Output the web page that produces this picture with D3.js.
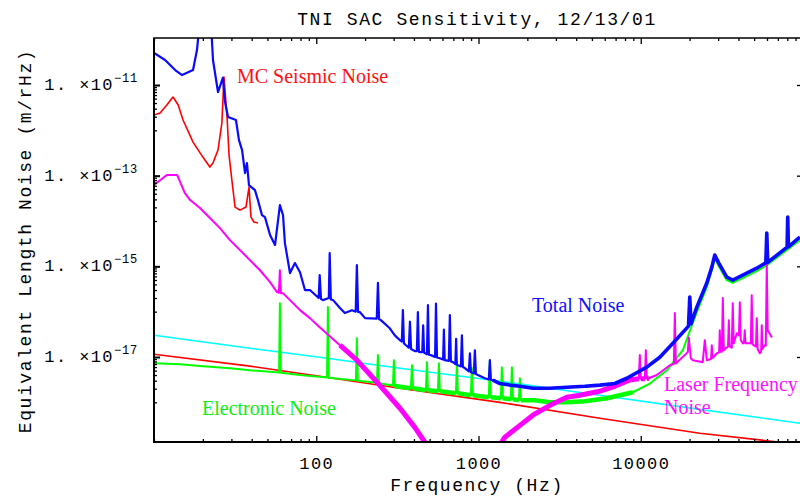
<!DOCTYPE html>
<html>
<head>
<meta charset="utf-8">
<script src="https://cdn.jsdelivr.net/npm/d3@7"></script>
<style>
body { margin: 0; background: #fff; }
svg { display: block; }
</style>
</head>
<body>
<script>
// donnees : [frequence (Hz), bruit (m/rHz)]
const totalNoise = [[10,5.1e-11],[11.7,3.56e-11],[13.5,2.14e-11],[14.9,1.66e-11],[17.4,2.14e-11],[18.4,5.9e-11],[19.2,2.7e-10],[22.4,2.7e-10],[23.1,3.56e-11],[24.8,7.0e-12],[26.6,1.45e-11],[27.4,4.2e-12],[28.6,1.97e-12],[32.0,1.69e-12],[33.4,6.1e-13],[34.9,3.67e-13],[36.4,1.14e-13],[37.4,1.9e-13],[38.5,6.2e-14],[41.9,4.8e-14],[43.7,2.9e-14],[46.3,1.35e-14],[48.3,1.22e-14],[51.9,4.9e-15],[55.7,2.94e-15],[59.7,2.24e-14],[62.4,1.35e-14],[64.1,3.25e-15],[68.9,7.1e-16],[73.9,1.18e-15],[79.4,7.4e-16],[85.2,3.0e-16],[91.4,3.0e-16],[103.5,2.0e-16],[105,6.4e-16],[107,1.9e-16],[110,1.8e-16],[119.5,2.0e-16],[121,1.95e-15],[123,1.85e-16],[127,1.8e-16],[140,1.2e-16],[150,9.3e-17],[166,1.08e-16],[175,1.0e-16],[178,1.06e-15],[181,9.9e-17],[186,9.75e-17],[200,7.2e-17],[236,7.0e-17],[240,4.3e-16],[244,6.8e-17],[250,6.5e-17],[284,4.3e-17],[305,3.0e-17],[328,2.35e-17],[337,2.2e-17],[342,1.08e-16],[347,2.0e-17],[357,1.82e-17],[372,1.6e-17],[378,6.0e-17],[384,1.5e-17],[405,1.35e-17],[417,1.35e-17],[423,9.75e-17],[429,1.3e-17],[442,1.28e-17],[450,1.28e-17],[456,5.0e-17],[462,1.25e-17],[481,1.15e-17],[488,1.39e-16],[495,1.12e-17],[509,1.1e-17],[540,1.0e-17],[547,1.5e-16],[555,9.8e-18],[578,9.4e-18],[605,8.8e-18],[612,4.0e-17],[619,8.5e-18],[656,8.2e-18],[666,8.4e-17],[676,8.0e-18],[695,7.7e-18],[720,7.0e-18],[728,2.5e-17],[735,6.8e-18],[747,6.6e-18],[779,6.2e-18],[790,3.0e-17],[801,6.0e-18],[824,5.7e-18],[872,4.8e-18],[885,1.2e-17],[898,4.6e-18],[936,4.3e-18],[950,1.41e-17],[964,4.2e-18],[991,4.0e-18],[1094,3.4e-18],[1158,3.2e-18],[1175,8.5e-18],[1192,3.15e-18],[1226,3.1e-18],[1355,2.6e-18],[1560,2.4e-18],[1800,2.26e-18],[2163,2.05e-18],[2754,2.05e-18],[3504,2.15e-18],[4520,2.26e-18],[5595,2.4e-18],[6920,2.6e-18],[8200,3.4e-18],[10890,5.96e-18],[13110,9.9e-18],[15780,2.0e-17],[19700,4.8e-17],[20050,2.1e-16],[20400,5.4e-17],[22160,1.26e-16],[25530,4.3e-16],[27420,9.6e-16],[28580,1.77e-15],[30270,1.18e-15],[33890,5.8e-16],[36900,4.96e-16],[42540,6.4e-16],[51880,9.1e-16],[59000,1.2e-15],[59800,5.4e-15],[60600,1.22e-15],[79800,2.65e-15],[80500,1.22e-14],[81300,2.7e-15],[95500,4.4e-15]]

const seismicNoise = [[10,2.18e-12],[10.9,2.41e-12],[12.0,3.62e-12],[13.1,5.43e-12],[14.1,3.62e-12],[15.1,1.69e-12],[17.4,5.5e-13],[20.0,2.57e-13],[22.1,1.55e-13],[23.1,1.9e-13],[24.8,3.67e-13],[26.2,1.45e-12],[27.0,1.5e-11],[28.2,1.97e-12],[29.0,2.85e-13],[30.2,8.0e-14],[31.6,2.03e-14],[33.9,1.74e-14],[36.9,2.03e-14],[38.5,5.6e-14],[39.6,1.22e-14],[41.3,9.5e-15],[43.7,9.0e-15]]

const redFloor = [[10,1.15e-17],[39,6.3e-18],[105,3.77e-18],[328,2.05e-18],[1355,1.0e-18],[5600,4.45e-19],[23100,2.08e-19],[82800,1.25e-19],[100000,1.05e-19]]

const cyanFloor = [[10,3.03e-17],[39,1.56e-17],[105,9.9e-18],[328,5.66e-18],[1355,2.92e-18],[5600,1.43e-18],[23100,7.0e-19],[95500,3.46e-19],[100000,3.3e-19]]

const laserNoise = [[10,6.2e-14],[12.0,1.03e-13],[13.9,1.03e-13],[15.5,4.13e-14],[16.7,2.9e-14],[19.2,1.93e-14],[22.1,1.16e-14],[25.5,6.97e-15],[29.4,3.79e-15],[33.9,2.28e-15],[39.0,1.37e-15],[45.0,8.2e-16],[51.9,4.48e-16],[57.3,2.69e-16],[58.8,2.6e-16],[59.7,8.2e-16],[60.6,2.55e-16],[62.4,2.56e-16],[68.9,1.8e-16],[79.4,1.08e-16],[91.4,7.2e-17],[105,4.55e-17],[140,1.82e-17],[178,8.5e-18],[237,2.78e-18],[328,7.4e-19],[405,2.8e-19],[467,1.32e-19],[516,7.9e-20],[1262,7.9e-20],[1454,1.7e-19],[1800,3.1e-19],[2163,5.2e-19],[2754,8.6e-19],[3504,1.3e-18],[4213,1.43e-18],[5600,1.76e-18],[6920,2.26e-18],[8560,3.1e-18],[9730,3.3e-18],[9870,1.1e-17],[10010,3.3e-18],[10600,3.3e-18],[10750,1.41e-17],[10900,3.35e-18],[11220,3.4e-18],[12560,4.0e-18],[15110,6.6e-18],[16000,7.0e-18],[16220,9.3e-17],[16450,7.2e-18],[19500,1.28e-17],[19770,2.7e-17],[20350,9.4e-18],[20940,8.5e-18],[24100,7.7e-18],[24820,2.35e-17],[25530,8.5e-18],[27100,9.0e-18],[27420,1.82e-17],[27750,9.5e-18],[29440,1.21e-17],[30400,1.25e-17],[30700,3.9e-17],[31000,1.3e-17],[31600,1.3e-17],[32060,2.0e-16],[32500,1.4e-17],[33890,1.64e-17],[34500,1.7e-17],[34900,6.5e-17],[35300,1.7e-17],[36400,1.6e-17],[36900,1.54e-16],[37400,2.0e-17],[39100,3.35e-17],[40300,3.0e-17],[40800,1.62e-16],[41300,2.4e-17],[42540,2.0e-17],[43300,2.1e-17],[43750,3.9e-17],[44200,2.0e-17],[47700,2.0e-17],[48300,2.31e-16],[48900,1.9e-17],[51300,1.7e-17],[51880,7.2e-17],[52500,1.5e-17],[54200,1.21e-17],[55200,1.3e-17],[55700,5.0e-17],[56200,1.5e-17],[58100,1.82e-17],[59000,1.8e-17],[59800,1.24e-15],[60600,3.9e-17],[64300,2.7e-17]]

const electronicNoise = [[10,7.3e-18],[14.5,6.9e-18],[19.2,6.3e-18],[29.4,5.66e-18],[39.0,5.1e-18],[59.0,4.55e-18],[59.7,1.54e-16],[60.5,4.5e-18],[79.4,4.0e-18],[116.5,3.55e-18],[118,1.26e-16],[119.5,3.5e-18],[175.5,3.05e-18],[178,2.6e-17],[180.5,3.0e-18],[236.5,2.7e-18],[240,1.1e-17],[243.5,2.65e-18],[297,2.35e-18],[301,8.5e-18],[305,2.3e-18],[383,2.05e-18],[389,6.6e-18],[395,2.05e-18],[474,1.85e-18],[481,7.7e-18],[488,1.85e-18],[562,1.76e-18],[570,7.3e-18],[578,1.76e-18],[726,1.59e-18],[736,7.7e-18],[746,1.59e-18],[897,1.43e-18],[910,5.7e-18],[923,1.43e-18],[1158,1.3e-18],[1175,8.5e-18],[1192,1.3e-18],[1373,1.23e-18],[1393,5.96e-18],[1413,1.23e-18],[1583,1.17e-18],[1606,5.96e-18],[1629,1.17e-18],[1774,1.11e-18],[1800,3.4e-18],[1826,1.11e-18],[2223,1.11e-18],[2754,1.0e-18],[3504,1.0e-18],[4520,1.06e-18],[6180,1.23e-18],[7430,1.43e-18],[8940,1.67e-18],[11380,2.6e-18],[14490,5.1e-18],[18160,1.41e-17],[22160,9.75e-17],[25530,3.47e-16],[27420,8.2e-16],[28580,1.52e-15],[30270,1.0e-15],[33890,4.96e-16],[36900,4.3e-16],[42540,5.5e-16],[51880,7.8e-16],[59800,1.06e-15],[79400,2.28e-15],[95500,3.79e-15]]

// graduations
const xMajorTicks = [100, 1000, 10000]
const xTickLabels = ['100', '1000', '10000']
const yMajorTicks = [1e-11, 1e-13, 1e-15, 1e-17]
const yTickExponents = ['-11', '-13', '-15', '-17']

const W = 800, H = 497
const pLeft = 154, pRight = 803, pTop = 38, pBottom = 442
const mono = 'Liberation Mono, DejaVu Sans Mono, monospace'
const serif = 'Liberation Serif, DejaVu Serif, serif'

let svg = d3.select('body')
    .append('svg')
    .attr('width', W)
    .attr('height', H)

let x = d3.scaleLog().domain([10, 1e5]).range([pLeft, pRight])
let y = d3.scaleLog().domain([1e-17, 1e-11]).range([357, 85])

// petites graduations
let xTicks = []
for (let d = 10; d < 1e5; d *= 10)
    for (let k = 1; k < 10; k++) xTicks.push(k * d)
let yTicks = []
yMajorTicks.forEach(v => {
    yTicks.push(v)
    for (let k = 1; k < 10; k++) yTicks.push(v / 10 * k)
})
const isMajorX = d => xMajorTicks.some(m => Math.abs(d - m) < 1e-6)
const isMajorY = d => yMajorTicks.some(m => Math.abs(d / m - 1) < 1e-6)

svg.append('clipPath').attr('id', 'clip')
    .append('rect')
    .attr('x', pLeft).attr('y', pTop)
    .attr('width', pRight - pLeft).attr('height', pBottom - pTop)

let plot = svg.append('g').attr('clip-path', 'url(#clip)')

let line = d3.line().x(d => x(d[0])).y(d => y(d[1]))

function curve(data, color, width, gen) {
    plot.append('path').datum(data)
        .attr('d', gen || line).attr('fill', 'none')
        .attr('stroke', color).attr('stroke-width', width)
        .attr('stroke-linejoin', 'round')
}

curve(cyanFloor, '#00ffff', 1.6)
curve(redFloor, '#ff0000', 1.6)
curve(seismicNoise, '#ff0000', 1.6)
curve(electronicNoise, '#00ff00', 2)
// bande bruitee du bruit electronique
curve(electronicNoise, '#00ff00', 4.5,
    d3.line().x(d => x(d[0])).y(d => y(d[1])).defined(d => d[0] > 280 && d[0] < 12000 && d[1] < 2.5e-18))
curve(laserNoise, '#ff00ff', 2)
// bande epaisse du laser en bas
curve(laserNoise, '#ff00ff', 5,
    d3.line().x(d => x(d[0])).y(d => y(d[1])).defined(d => d[1] < 2e-17 && (d[0] < 1000 || d[1] < 4e-18)))
curve(totalNoise, '#0a0aff', 2.2)
curve(totalNoise, '#0a0aff', 3.6,
    d3.line().x(d => x(d[0])).y(d => y(d[1])).defined(d => d[0] > 1200))

// cadre
svg.append('rect')
    .attr('x', pLeft).attr('y', pTop)
    .attr('width', pRight - pLeft).attr('height', pBottom - pTop)
    .attr('fill', 'none').attr('stroke', '#000').attr('stroke-width', 1.5)
svg.append('path')
    .attr('d', `M${pLeft},${pTop}V${pBottom}H${pRight}`)
    .attr('fill', 'none').attr('stroke', '#000').attr('stroke-width', 2)

// axes
let gx = svg.append('g')
    .attr('transform', `translate(0,${pBottom})`)
    .call(d3.axisBottom(x).tickValues(xTicks).tickSize(-3).tickSizeOuter(0).tickPadding(15)
        .tickFormat(d => isMajorX(d) ? xTickLabels[xMajorTicks.findIndex(m => Math.abs(d - m) < 1e-6)] : ''))
let gxt = svg.append('g')
    .attr('transform', `translate(0,${pTop})`)
    .call(d3.axisTop(x).tickValues(xTicks).tickSize(-3).tickSizeOuter(0).tickFormat(''))
let gy = svg.append('g')
    .attr('transform', `translate(${pLeft},0)`)
    .call(d3.axisLeft(y).tickValues(yTicks).tickSize(-3).tickSizeOuter(0).tickFormat(''))
let gyr = svg.append('g')
    .attr('transform', `translate(${pRight},0)`)
    .call(d3.axisRight(y).tickValues(yTicks).tickSize(-3).tickSizeOuter(0).tickFormat(''))

;[gx, gxt, gy, gyr].forEach(g => {
    g.select('.domain').remove()
    g.selectAll('.tick line').attr('stroke', '#000').attr('stroke-width', 1.3)
})
gx.selectAll('.tick line').attr('y2', d => isMajorX(d) ? -6 : -3)
gxt.selectAll('.tick line').attr('y2', d => isMajorX(d) ? 6 : 3)
gy.selectAll('.tick line').attr('x2', d => isMajorY(d) ? 6 : 3)
    .attr('stroke-width', d => isMajorY(d) ? 2 : 1.3)
gyr.selectAll('.tick line').attr('x2', d => isMajorY(d) ? -6 : -3)
gx.selectAll('.tick text')
    .attr('font-family', mono).attr('font-size', 17)
    .attr('letter-spacing', 1.4).attr('fill', '#000')

// etiquettes de l'axe y
yMajorTicks.forEach((v, i) => {
    let t = svg.append('text')
        .attr('x', 138).attr('y', y(v) + 5)
        .attr('text-anchor', 'end')
        .attr('font-family', mono).attr('fill', '#000')
    t.append('tspan').text('1. \u00d710')
        .attr('font-size', 17).attr('letter-spacing', 1.4)
    t.append('tspan').text(yTickExponents[i].replace('-', '\u2212'))
        .attr('font-size', 12).attr('dy', -8).attr('letter-spacing', 0.8)
})

// titres
svg.append('text')
    .text('TNI SAC Sensitivity, 12/13/01')
    .attr('x', 477).attr('y', 25)
    .attr('text-anchor', 'middle')
    .attr('font-family', mono).attr('font-size', 18).attr('letter-spacing', 1.6)
svg.append('text')
    .text('Frequency (Hz)')
    .attr('x', 477).attr('y', 491)
    .attr('text-anchor', 'middle')
    .attr('font-family', mono).attr('font-size', 18).attr('letter-spacing', 1.6)
svg.append('text')
    .text('Equivalent Length Noise (m/rHz)')
    .attr('transform', 'translate(31,241) rotate(-90)')
    .attr('text-anchor', 'middle')
    .attr('font-family', mono).attr('font-size', 18).attr('letter-spacing', 1.6)

// legendes dans le graphique
const labels = [
    ['MC Seismic Noise', 237, 83, '#ff1010'],
    ['Total Noise', 532, 312, '#1010ff'],
    ['Electronic Noise', 202, 415, '#10ee10'],
    ['Laser Frequency', 664, 391, '#ff10ff'],
    ['Noise', 664, 414, '#ff10ff']
]
labels.forEach(l => {
    svg.append('text')
        .text(l[0])
        .attr('x', l[1]).attr('y', l[2])
        .attr('font-family', serif).attr('font-size', 20)
        .attr('fill', l[3])
})
</script>
</body>
</html>
